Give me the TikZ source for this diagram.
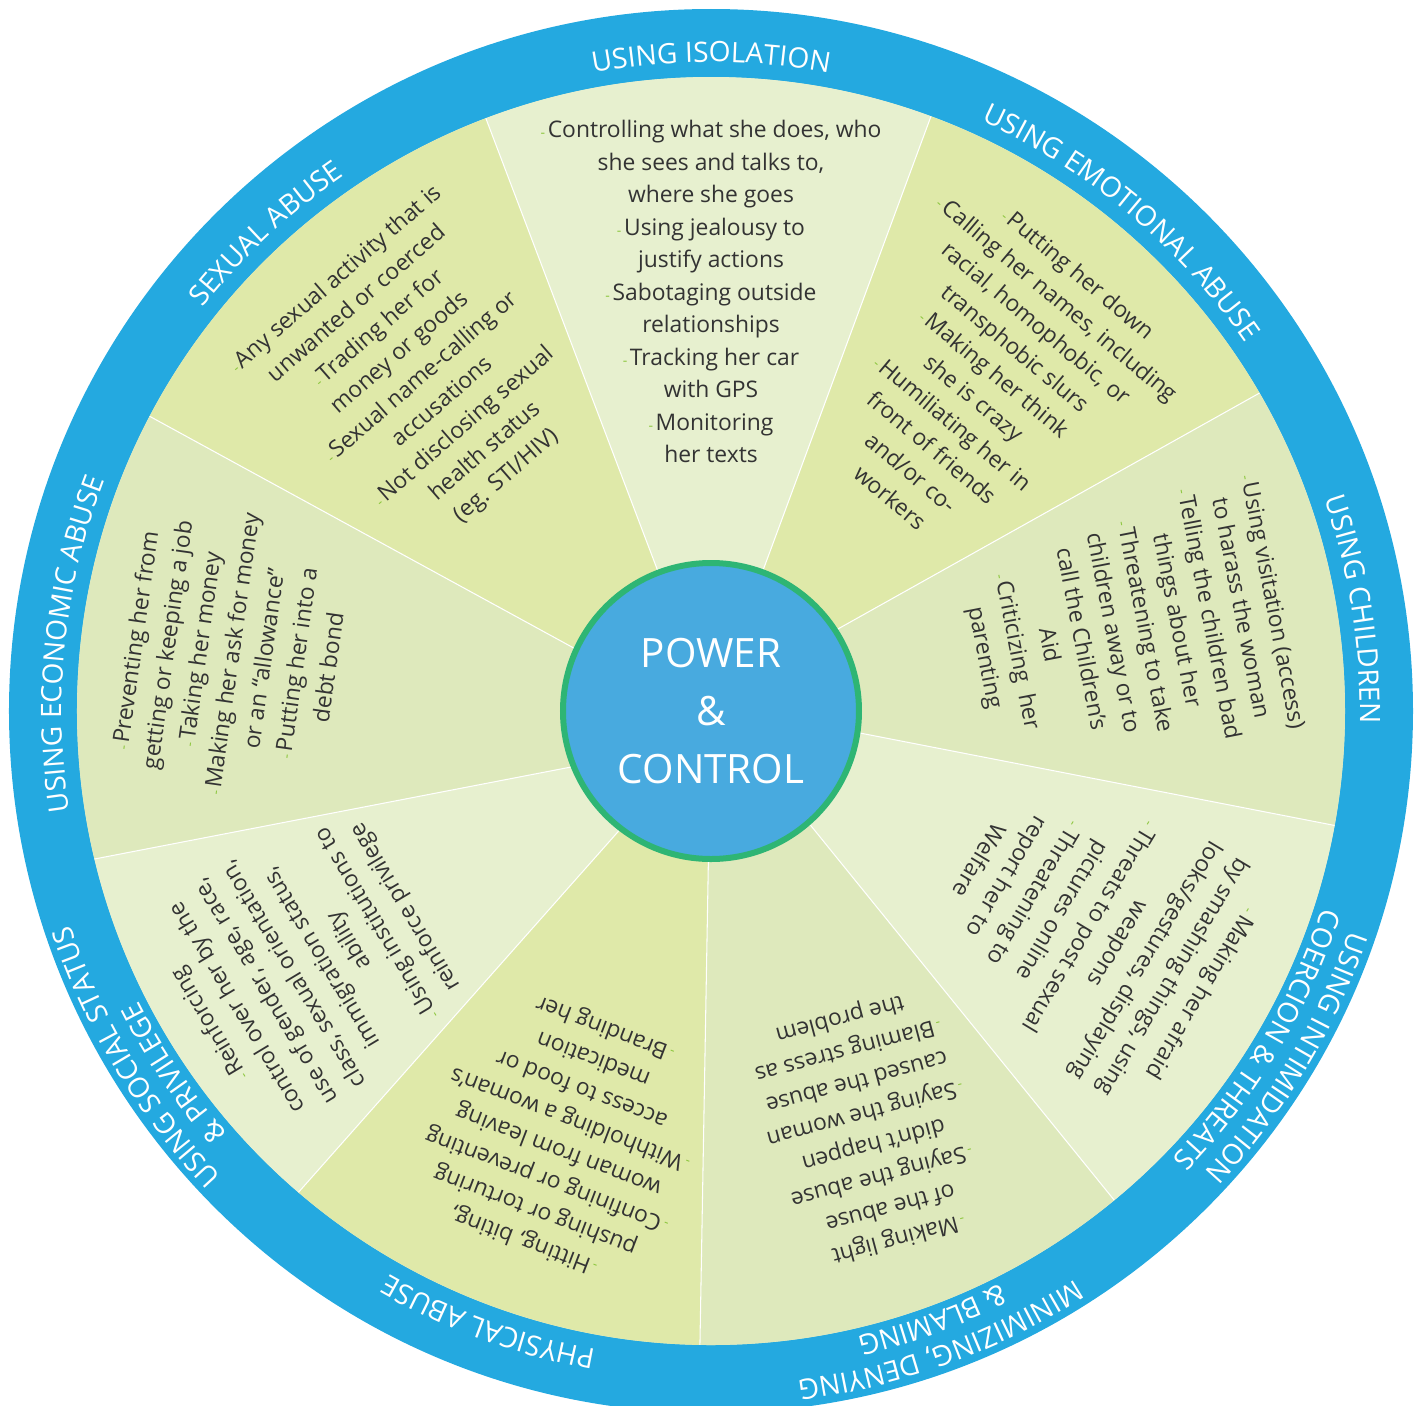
\documentclass[tikz,border=0pt]{standalone}
\usepackage{fontspec}
\setmainfont{Open Sans}
\usepackage{xcolor}
\usepackage{tikz}
\usetikzlibrary{decorations.text}

\definecolor{ringblue}{HTML}{24A9E0}
\definecolor{coreblue}{HTML}{48AADF}
\definecolor{coregreen}{HTML}{2EB574}
\definecolor{palegreen}{HTML}{E7F0CF}
\definecolor{limegreen}{HTML}{DFE9A9}
\definecolor{sagegreen}{HTML}{DEE9BC}
\definecolor{inkgray}{HTML}{333333}
\definecolor{tickgreen}{HTML}{8CC63E}

\newcommand{\itm}{{\color{tickgreen}\fontsize{8}{8}\selectfont -}\kern1.5pt}
\newcommand{\ringfont}{\fontsize{16}{16}\selectfont\color{white}}

\tikzset{
  cut/.style={draw=white, line width=0.6pt},
  tactic/.style={anchor=north, align=center, inner sep=0pt, text=inkgray,
    font=\fontsize{13}{18.5}\selectfont},
  ringlabel/.style={decorate, decoration={text along path, text align=center,
    text={|\ringfont|#1}}},
  core/.style={circle, fill=coreblue, draw=coregreen, line width=0.12cm,
    minimum size=5.92cm, inner sep=0pt, text=white, align=center,
    font=\fontsize{23}{33}\selectfont}
}

\begin{document}
\begin{tikzpicture}
  \useasboundingbox (-14.22,-13.88) rectangle (14.10,14.22);

  % Outer ring
  \fill[ringblue] (0,0) circle[radius=14.04];
  \fill[palegreen] (0,0) circle[radius=12.68];

  % Ends of the cuts between wedges
  \coordinate (hub1) at (0,0.22);   \coordinate (rim1) at (30.1:12.68);
  \coordinate (hub2) at (0,0);      \coordinate (rim2) at (69.7:12.68);
  \coordinate (hub3) at (0,0);      \coordinate (rim3) at (110.8:12.68);
  \coordinate (hub4) at (0,-0.24);  \coordinate (rim4) at (152.3:12.68);
  \coordinate (hub5) at (0,-0.58);  \coordinate (rim5) at (193.5:12.68);
  \coordinate (hub6) at (0.28,0);   \coordinate (rim6) at (229.4:12.68);
  \coordinate (hub7) at (0,0);      \coordinate (rim7) at (269:12.68);
  \coordinate (hub8) at (0.14,0);   \coordinate (rim8) at (309.5:12.68);
  \coordinate (hub9) at (0,0.14);   \coordinate (rim9) at (349.6:12.68);

  % Wedges
  \fill[limegreen] (hub1) -- (rim1) arc[start angle=30.1, end angle=69.7, radius=12.68] -- (hub2) -- cycle;
  \fill[palegreen] (hub2) -- (rim2) arc[start angle=69.7, end angle=110.8, radius=12.68] -- (hub3) -- cycle;
  \fill[limegreen] (hub3) -- (rim3) arc[start angle=110.8, end angle=152.3, radius=12.68] -- (hub4) -- cycle;
  \fill[sagegreen] (hub4) -- (rim4) arc[start angle=152.3, end angle=193.5, radius=12.68] -- (hub5) -- cycle;
  \fill[palegreen] (hub5) -- (rim5) arc[start angle=193.5, end angle=229.4, radius=12.68] -- (hub6) -- cycle;
  \fill[limegreen] (hub6) -- (rim6) arc[start angle=229.4, end angle=269, radius=12.68] -- (hub7) -- cycle;
  \fill[sagegreen] (hub7) -- (rim7) arc[start angle=269, end angle=309.5, radius=12.68] -- (hub8) -- cycle;
  \fill[palegreen] (hub8) -- (rim8) arc[start angle=309.5, end angle=349.6, radius=12.68] -- (hub9) -- cycle;
  \fill[sagegreen] (hub9) -- (rim9) arc[start angle=-10.4, end angle=30.1, radius=12.68] -- (hub1) -- cycle;

  % Cuts
  \draw[cut] (hub1) -- (rim1);
  \draw[cut] (hub2) -- (rim2);
  \draw[cut] (hub3) -- (rim3);
  \draw[cut] (hub4) -- (rim4);
  \draw[cut] (hub5) -- (rim5);
  \draw[cut] (hub6) -- (rim6);
  \draw[cut] (hub7) -- (rim7);
  \draw[cut] (hub8) -- (rim8);
  \draw[cut] (hub9) -- (rim9);

  % Tactics
  \node[tactic] (isolation) at (90:11.82) {\itm Controlling what she does, who\\she sees and talks to,\\where she goes\\\itm Using jealousy to\\justify actions\\\itm Sabotaging outside\\relationships\\\itm Tracking her car\\with GPS\\\itm Monitoring\\her texts};
  \node[tactic, rotate=-40] (emotional) at (50:11.62) {\itm Putting her down\\\itm Calling her names, including\\racial, homophobic, or\\transphobic slurs\\\itm Making her think\\she is crazy\\\itm Humiliating her in\\front of friends\\and/or co-\\workers};
  \node[tactic, rotate=-79] (children) at (11:11.64) {\itm Using visitation (access)\\to harass the woman\\\itm Telling the children bad\\things about her\\\itm Threatening to take\\children away or to\\call the Children’s\\Aid\\\itm Criticizing\ \ her\\parenting};
  \node[tactic, rotate=-121] (intimidation) at (-30:11.54) {\itm Making her afraid\\by smashing things, using\\looks/gestures, displaying\\weapons\\\itm Threats to post sexual\\pictures online\\\itm Threatening to\\report her to\\Welfare};
  \node[tactic, rotate=-165] (minimizing) at (-70.5:11.42) {\itm Making light\\of the abuse\\\itm Saying the abuse\\didn’t happen\\\itm Saying the woman\\caused the abuse\\\itm Blaming stress as\\the problem};
  \node[tactic, rotate=159] (physical) at (-109.5:11.46) {\itm Hitting, biting,\\pushing or torturing\\\itm Confining or preventing\\woman from leaving\\\itm Withholding a woman’s\\access to food or\\medication\\\itm Branding her};
  \node[tactic, rotate=121] (privilege) at (-148:12.04) {\itm Reinforcing\\control over her by the\\use of gender, age, race,\\class, sexual orientation,\\immigration status,\\ability\\\itm Using institutions to\\reinforce privilege};
  \node[tactic, rotate=82] (economic) at (173:11.80) {\itm Preventing her from\\getting or keeping a job\\\itm Taking her money\\\itm Making her ask for money\\or an “allowance”\\\itm Putting her into a\\debt bond};
  \node[tactic, rotate=41] (sexual) at (131:11.66) {\itm Any sexual activity that is\\unwanted or coerced\\\itm Trading her for\\money or goods\\\itm Sexual name-calling or\\accusations\\\itm Not disclosing sexual\\health status\\(eg. STI/HIV)};

  % Ring labels
  \path[ringlabel={USING ISOLATION}] (130:12.98) arc[start angle=130, end angle=50, radius=12.98];
  \path[ringlabel={USING EMOTIONAL ABUSE}] (90:12.98) arc[start angle=90, end angle=10, radius=12.98];
  \path[ringlabel={USING CHILDREN}] (49:12.98) arc[start angle=49, end angle=-31, radius=12.98];
  \path[ringlabel={USING INTIMIDATION}] (9:13.5) arc[start angle=9, end angle=-71, radius=13.5];
  \path[ringlabel={COERCION {\&} THREATS}] (9:12.84) arc[start angle=9, end angle=-71, radius=12.84];
  \path[ringlabel={MINIMIZING{,} DENYING}] (-30:13.5) arc[start angle=-30, end angle=-110, radius=13.5];
  \path[ringlabel={{\&} BLAMING}] (-30:12.84) arc[start angle=-30, end angle=-110, radius=12.84];
  \path[ringlabel={PHYSICAL ABUSE}] (-70:12.98) arc[start angle=-70, end angle=-150, radius=12.98];
  \path[ringlabel={USING SOCIAL STATUS}] (-109:13.5) arc[start angle=-109, end angle=-189, radius=13.5];
  \path[ringlabel={{\&} PRIVILEGE}] (-106:12.84) arc[start angle=-106, end angle=-186, radius=12.84];
  \path[ringlabel={USING ECONOMIC ABUSE}] (214:12.98) arc[start angle=214, end angle=134, radius=12.98];
  \path[ringlabel={SEXUAL ABUSE}] (173:12.98) arc[start angle=173, end angle=93, radius=12.98];

  % Centre
  \node[core] (power) at (0,0) {POWER\\\&\\CONTROL};
\end{tikzpicture}
\end{document}
